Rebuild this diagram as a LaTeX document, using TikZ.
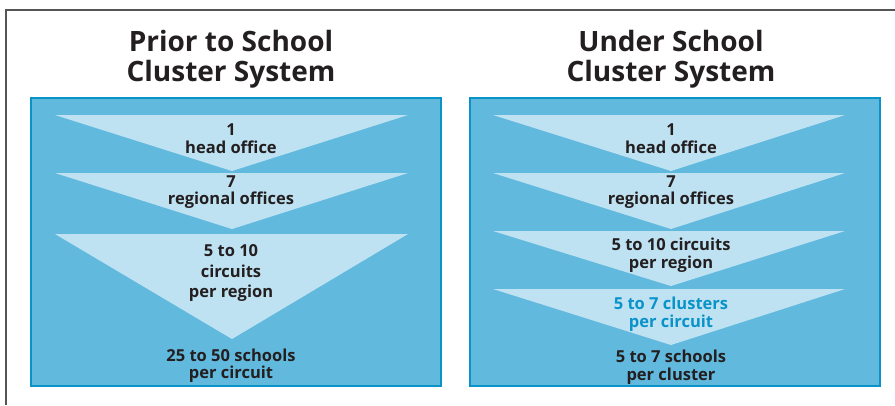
\documentclass[tikz,border=0pt]{standalone}
\usepackage{fontspec}
\setmainfont{Open Sans}
\definecolor{panelfill}{HTML}{62B9DE}
\definecolor{panelline}{HTML}{0A93C9}
\definecolor{trifill}{HTML}{BFE2F2}
\definecolor{inkdark}{HTML}{231F20}
\definecolor{inkblue}{HTML}{0A93C9}
\definecolor{framegray}{HTML}{555555}
\tikzset{
  panel/.style={fill=panelfill, draw=panelline, line width=2pt},
  tri/.style={fill=trifill},
  title/.style={anchor=base, font=\fontsize{28}{30}\selectfont\bfseries, text=inkdark, inner sep=0pt},
  lbl/.style={anchor=base, font=\fontsize{16.5}{18}\selectfont\bfseries, text=inkdark, inner sep=0pt},
  bluelbl/.style={lbl, text=inkblue},
}
\begin{document}
\begin{tikzpicture}[x=1pt,y=-1pt]
\useasboundingbox (0,0) rectangle (895,405);
\draw[framegray, line width=1.5pt] (6,405) -- (6,10) -- (895,10);
% left panel
\node[title] (lt1) at (231,51.5) {Prior to School};
\node[title] (lt2) at (231,81) {Cluster System};
\draw[panel] (31,98) rectangle (441,386);
\fill[tri] (55,115) -- (408,115) -- (232,171) -- cycle;
\fill[tri] (55,173) -- (408,173) -- (232,229) -- cycle;
\fill[tri] (55,234) -- (408,234) -- (232,339) -- cycle;
\node[lbl] (l1a) at (231,135) {1};
\node[lbl] (l1b) at (231,153) {head office};
\node[lbl] (l2a) at (231,187) {7};
\node[lbl] (l2b) at (231,204.5) {regional offices};
\node[lbl] (l3a) at (231,256) {5 to 10};
\node[lbl] (l3b) at (231,277) {circuits};
\node[lbl] (l3c) at (231,297) {per region};
\node[lbl] (l4a) at (231,361) {25 to 50 schools};
\node[lbl] (l4b) at (231,378.5) {per circuit};
% right panel
\node[title] (rt1) at (671,51.5) {Under School};
\node[title] (rt2) at (671,81) {Cluster System};
\draw[panel] (470,98) rectangle (880,386);
\fill[tri] (493,115) -- (845,115) -- (671,171) -- cycle;
\fill[tri] (493,173) -- (845,173) -- (671,229) -- cycle;
\fill[tri] (493,231) -- (845,231) -- (671,286) -- cycle;
\fill[tri] (493,289) -- (845,289) -- (671,345) -- cycle;
\node[lbl] (r1a) at (671,135) {1};
\node[lbl] (r1b) at (671,153) {head office};
\node[lbl] (r2a) at (671,187) {7};
\node[lbl] (r2b) at (671,204.5) {regional offices};
\node[lbl] (r3a) at (671,250) {5 to 10 circuits};
\node[lbl] (r3b) at (671,268) {per region};
\node[bluelbl] (r4a) at (671,309) {5 to 7 clusters};
\node[bluelbl] (r4b) at (671,327) {per circuit};
\node[lbl] (r5a) at (671,362) {5 to 7 schools};
\node[lbl] (r5b) at (671,380) {per cluster};
\end{tikzpicture}
\end{document}
